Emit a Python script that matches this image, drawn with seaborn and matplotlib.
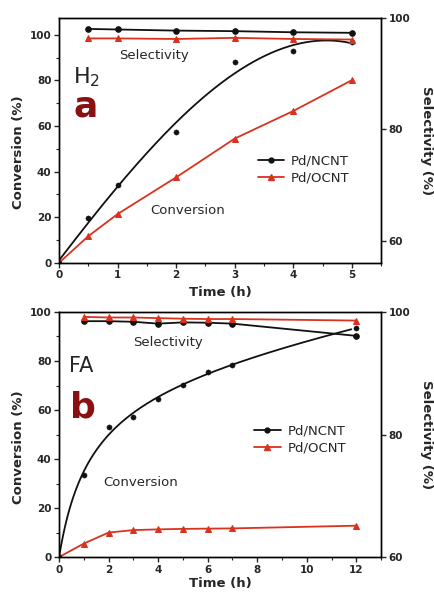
import numpy as np
import pandas as pd
import matplotlib
matplotlib.use("Agg")
import matplotlib.pyplot as plt
import seaborn as sns
from matplotlib.ticker import MultipleLocator

sns.set_style("ticks")
plt.rcParams['font.family'] = ['DejaVu Sans']

# ---------------- data: panel a (H2) ----------------
t_a = [0, 0.5, 1, 2, 3, 4, 5]
conv_ncnt_a = [0, 19.5, 34.1, 57.2, 88.0, 93.0, 96.8]
conv_ocnt_a = [0, 11.7, 21.4, 37.5, 54.5, 66.6, 80.1]
ts_a = [0.5, 1, 2, 3, 4, 5]
sel_ncnt_a = [98.0, 97.9, 97.7, 97.6, 97.4, 97.3]
sel_ocnt_a = [96.3, 96.3, 96.2, 96.4, 96.2, 96.1]

# ---------------- data: panel b (FA) ----------------
t_b = [0, 1, 2, 3, 4, 5, 6, 7, 12]
conv_ncnt_b = [0, 33.6, 53.0, 57.2, 64.3, 70.4, 75.7, 78.4, 93.4]
conv_ocnt_b = [0, 5.5, 10.0, 11.0, 11.3, 11.5, 11.6, 11.7, 12.8]
ts_b = [1, 2, 3, 4, 5, 6, 7, 12]
sel_ncnt_b = [98.5, 98.5, 98.4, 98.1, 98.3, 98.25, 98.1, 96.1]
sel_ocnt_b = [99.2, 99.1, 99.1, 99.0, 98.9, 98.85, 98.85, 98.6]

BLACK = '#111111'
RED = '#d9321f'
DARKRED = '#8a1111'

fig = plt.figure(figsize=(4.34, 5.92), dpi=100)
ax1 = fig.add_axes([0.136, 0.556, 0.742, 0.414])
ax2 = fig.add_axes([0.136, 0.059, 0.742, 0.414])


def style(ax, ax_r):
    for a in (ax, ax_r):
        for s in a.spines.values():
            s.set_linewidth(1.0)
            s.set_color('black')
        a.tick_params(which='major', direction='out', length=3.5, width=1.0,
                      labelsize=7.5, pad=2)
        a.tick_params(which='minor', direction='out', length=2, width=0.8)
        for lab in a.get_xticklabels() + a.get_yticklabels():
            lab.set_fontweight('bold')


def panel(ax, t, cn, co, ts, sn, so, xform, deg, tfit_end, xlim, ylim,
          ylim_r, xmaj, xmin, gas, letter, sel_xy, conv_xy, gas_xy, let_xy,
          leg_xy, gas_fs, xlab_y):
    # fitted curve for Pd/NCNT conversion
    u = xform(np.asarray(t, float))
    coef = np.polyfit(u, cn, deg)
    tf = np.linspace(0, tfit_end, 300)
    fit = pd.DataFrame({'t': tf, 'y': np.polyval(coef, xform(tf))})
    sns.lineplot(data=fit, x='t', y='y', ax=ax, color=BLACK, lw=1.3)
    sns.scatterplot(x=t, y=cn, ax=ax, color=BLACK, s=14, marker='o',
                    edgecolor=BLACK, zorder=5)
    sns.lineplot(x=t, y=co, ax=ax, color=RED, lw=1.3, marker='^',
                 markersize=5, markeredgecolor=RED)
    # legend handles
    ax.plot([], [], color=BLACK, lw=1.3, marker='o', markersize=3.5,
            label='Pd/NCNT')
    ax.plot([], [], color=RED, lw=1.3, marker='^', markersize=5,
            label='Pd/OCNT')
    ax.legend(loc='center left', bbox_to_anchor=leg_xy, frameon=False,
              fontsize=9.5, handlelength=2.0, handletextpad=0.5,
              labelspacing=0.3, borderaxespad=0)

    ax.set_xlim(*xlim)
    ax.set_ylim(*ylim)
    ax.xaxis.set_major_locator(MultipleLocator(xmaj))
    ax.xaxis.set_minor_locator(MultipleLocator(xmin))
    ax.yaxis.set_major_locator(MultipleLocator(20))
    ax.yaxis.set_minor_locator(MultipleLocator(10))
    ax.set_xlabel('Time (h)', fontsize=9.5, fontweight='bold')
    ax.set_ylabel('Conversion (%)', fontsize=9.5, fontweight='bold')
    ax.yaxis.set_label_coords(-0.107, 0.45)
    ax.xaxis.set_label_coords(0.5, xlab_y)

    ax_r = ax.twinx()
    sns.lineplot(x=ts, y=sn, ax=ax_r, color=BLACK, lw=1.3, marker='o',
                 markersize=4, markeredgecolor=BLACK)
    sns.lineplot(x=ts, y=so, ax=ax_r, color=RED, lw=1.3, marker='^',
                 markersize=5, markeredgecolor=RED)
    ax_r.set_ylim(*ylim_r)
    ax_r.yaxis.set_major_locator(MultipleLocator(20))
    ax_r.set_ylabel('Selectivity (%)', fontsize=9.5, fontweight='bold',
                    rotation=270)
    ax_r.yaxis.set_label_coords(1.16, 0.5)
    ax.set_xlim(*xlim)

    ax.text(*sel_xy, 'Selectivity', fontsize=9.5, ha='center', va='center')
    ax.text(*conv_xy, 'Conversion', fontsize=9.5, ha='center', va='center')
    ax.text(*gas_xy, gas, fontsize=gas_fs, ha='left', va='center')
    ax.text(*let_xy, letter, fontsize=26, ha='left', va='center',
            color=DARKRED, fontweight='bold',
            family=['Liberation Sans Narrow', 'DejaVu Sans'])
    style(ax, ax_r)


panel(ax1, t_a, conv_ncnt_a, conv_ocnt_a, ts_a, sel_ncnt_a, sel_ocnt_a,
      lambda x: x, 3, 5.0, (0, 5.5), (0, 107.5), (56.1, 100), 1, 0.5,
      'H$_2$', 'a', (1.62, 91), (2.2, 23), (0.24, 81.5), (0.24, 68.5),
      (0.6, 0.38), 16, -0.095)
panel(ax2, t_b, conv_ncnt_b, conv_ocnt_b, ts_b, sel_ncnt_b, sel_ocnt_b,
      np.log1p, 3, 11.8, (0, 13), (0, 100), (60, 100), 2, 1, 'FA', 'b',
      (4.4, 87.7), (3.3, 30.5), (0.4, 78), (0.45, 61), (0.59, 0.48), 15,
      -0.08)

fig.savefig('out.png', dpi=100)
